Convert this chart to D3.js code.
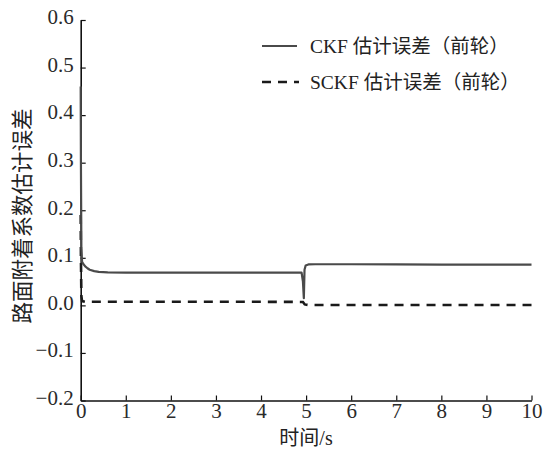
<!DOCTYPE html>
<html>
<head>
<meta charset="utf-8">
<script src="https://cdn.jsdelivr.net/npm/d3@7"></script>
<style>
  html, body { margin: 0; padding: 0; background: #fff; }
  svg { display: block; }
</style>
</head>
<body>
<svg id="chart" width="553" height="460"></svg>
<script>
// ---- data ----
const xTicks = [0, 1, 2, 3, 4, 5, 6, 7, 8, 9, 10];
const yTicks = [-0.2, -0.1, 0.0, 0.1, 0.2, 0.3, 0.4, 0.5, 0.6];

const ckfT = [0, 0.005, 0.015, 0.03, 0.05, 0.1, 0.15, 0.2, 0.3, 0.4, 0.5, 0.6, 1, 2, 3, 4, 4.9, 4.93, 4.95, 4.965, 4.99, 5.05, 5.2, 6, 7, 8, 9, 10];
const ckfV = [0.46, 0.30, 0.12, 0.092, 0.088, 0.082, 0.078, 0.075, 0.072, 0.0705, 0.070, 0.0695, 0.069, 0.069, 0.069, 0.069, 0.069, 0.05, 0.015, 0.075, 0.084, 0.086, 0.0865, 0.0865, 0.086, 0.0858, 0.0855, 0.0855];

const sckfT = [0, 0.005, 0.015, 0.03, 0.1, 1, 2, 3, 4, 4.93, 4.97, 5.05, 6, 7, 8, 9, 10];
const sckfV = [0.19, 0.10, 0.02, 0.009, 0.0075, 0.0075, 0.0075, 0.0075, 0.0075, 0.0072, 0.002, 0.0008, 0.0008, 0.0008, 0.0008, 0.0008, 0.0008];

const legendLabels = ["CKF 估计误差（前轮）", "SCKF 估计误差（前轮）"];
const xTitle = "时间/s";
const yTitle = "路面附着系数估计误差";

// ---- drawing ----
const svg = d3.select("#chart");
const x = d3.scaleLinear().domain([0, 10]).range([80.7, 531.5]);
const y = d3.scaleLinear().domain([-0.2, 0.6]).range([400.5, 20]);

const fmt = d3.format(".1f");
const serif = "Liberation Serif, Times New Roman, serif";
const mixed = "Liberation Serif, Noto Sans CJK SC, serif";

function styleAxis(g) {
  g.attr("font-family", serif).attr("font-size", 21);
  g.select(".domain").attr("stroke", "#111").attr("stroke-width", 1.6);
  g.selectAll(".tick line").attr("stroke", "#111").attr("stroke-width", 1.2);
  g.selectAll(".tick text")
    .attr("font-family", serif).attr("font-size", 21).attr("fill", "#2a2a2a");
}

// y axis
const yAxis = svg.append("g").attr("transform", `translate(${x(0)},0)`)
  .call(d3.axisLeft(y).tickValues(yTicks).tickFormat(fmt).tickSizeInner(-5).tickSizeOuter(0).tickPadding(7));
styleAxis(yAxis);
yAxis.selectAll(".tick text").attr("dy", "0.18em");

// x axis
const xAxis = svg.append("g").attr("transform", `translate(0,${y(-0.2)})`)
  .call(d3.axisBottom(x).tickValues(xTicks).tickFormat(d3.format("d")).tickSizeInner(-5).tickSizeOuter(0).tickPadding(3));
styleAxis(xAxis);

// lines
const ckfData = ckfT.map((t, i) => [t, ckfV[i]]);
const sckfData = sckfT.map((t, i) => [t, sckfV[i]]);
const line = d3.line().x(d => x(d[0])).y(d => y(d[1]));

svg.append("path").datum(sckfData)
  .attr("d", line).attr("fill", "none")
  .attr("stroke", "#1a1a1a").attr("stroke-width", 2.6)
  .attr("stroke-dasharray", "9,7");

svg.append("path").datum(ckfData)
  .attr("d", line).attr("fill", "none")
  .attr("stroke", "#4a4a4a").attr("stroke-width", 2.2)
  .attr("stroke-linejoin", "round");

// legend
const lg = svg.append("g");
const rows = [46, 82];
lg.append("line").attr("x1", 262).attr("x2", 297).attr("y1", rows[0]).attr("y2", rows[0])
  .attr("stroke", "#4a4a4a").attr("stroke-width", 2.2);
lg.append("line").attr("x1", 262).attr("x2", 299).attr("y1", rows[1]).attr("y2", rows[1])
  .attr("stroke", "#1a1a1a").attr("stroke-width", 2.6).attr("stroke-dasharray", "9,7");
legendLabels.forEach((t, i) => {
  lg.append("text").attr("x", 310).attr("y", rows[i]).attr("dy", "0.35em")
    .attr("font-family", mixed).attr("font-size", 19.5).attr("fill", "#222").text(t);
});

// axis titles
svg.append("text").attr("x", 306).attr("y", 438).attr("dy", "0.35em")
  .attr("text-anchor", "middle")
  .attr("font-family", mixed).attr("font-size", 20).attr("fill", "#222").text(xTitle);

svg.append("text").attr("transform", "translate(22,216) rotate(-90)")
  .attr("text-anchor", "middle").attr("dy", "0.35em")
  .attr("font-family", "Noto Sans CJK SC, serif")
  .attr("font-size", 21.5).attr("fill", "#222").text(yTitle);
</script>
</body>
</html>
